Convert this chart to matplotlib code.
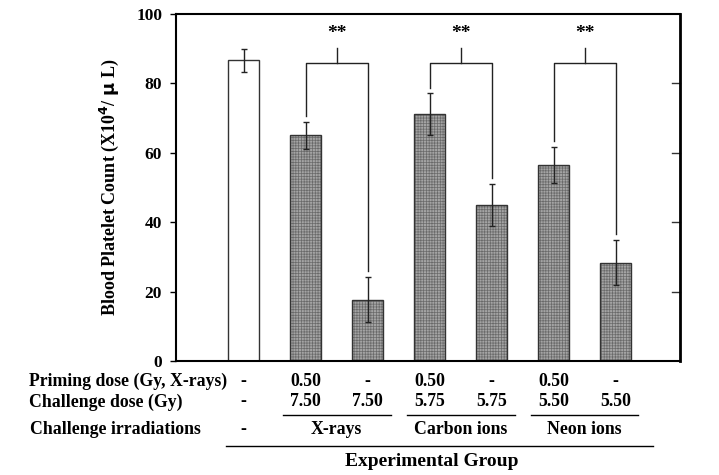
import matplotlib
matplotlib.use("Agg")
import matplotlib.pyplot as plt
from matplotlib import transforms

plt.rcParams['font.family'] = ['Liberation Serif', 'DejaVu Serif']
plt.rcParams['font.weight'] = 'bold'
plt.rcParams['hatch.linewidth'] = 0.5

means = [86.7, 65.0, 17.7, 71.1, 45.0, 56.5, 28.3]
errs = [3.3, 3.8, 6.5, 6.0, 6.0, 5.3, 6.5]
priming = ['-', '0.50', '-', '0.50', '-', '0.50', '-']
challenge = ['-', '7.50', '7.50', '5.75', '5.75', '5.50', '5.50']
groups = ['X-rays', 'Carbon ions', 'Neon ions']
group_pairs = [(1, 2), (3, 4), (5, 6)]
yticks = [0, 20, 40, 60, 80, 100]

fig = plt.figure(figsize=(7.19, 4.75), dpi=100)
ax = fig.add_axes([0.2448, 0.24, 0.701, 0.7305])
x = list(range(len(means)))

for i, (m, e) in enumerate(zip(means, errs)):
    if i == 0:
        ax.bar(i, m, width=0.5, facecolor='white', edgecolor='#333333', linewidth=1.0, zorder=2)
    else:
        ax.bar(i, m, width=0.5, facecolor='#a4a4a4', edgecolor='#6a6a6a', linewidth=0,
               hatch='++++++', zorder=2)
        ax.bar(i, m, width=0.5, fill=False, edgecolor='#333333', linewidth=1.0, zorder=2)
ax.errorbar(x, means, yerr=errs, fmt='none', ecolor='#222222', elinewidth=1.0,
            capsize=2.5, capthick=1.0, zorder=3)

# significance brackets
bracket_y = 85.8
for (a, b) in group_pairs:
    ya = means[a] + errs[a] + 1.7
    yb = means[b] + errs[b] + 1.7
    ax.plot([a, a, b, b], [ya, bracket_y, bracket_y, yb], color='#222222', lw=1.0, zorder=3)
    mid = (a + b) / 2
    ax.plot([mid, mid], [bracket_y, 90.2], color='#222222', lw=1.0, zorder=3)
    ax.text(mid, 94.3, '**', ha='center', va='center', fontsize=14, fontweight='bold')

ax.set_xlim(-1.09, 7.04)
ax.set_ylim(0, 100)
ax.set_yticks(yticks)
ax.set_yticklabels([str(t) for t in yticks], fontsize=12.5, fontweight='bold')
ax.set_xticks([])
ax.tick_params(axis='y', direction='out', length=4, width=1.0, pad=6, right=False)
for s in ax.spines.values():
    s.set_linewidth(1.5)
ax.spines['right'].set_linewidth(2.0)

# inward ticks on right spine
for t in [20, 40, 60, 80]:
    ax.plot([0.985, 1.0], [t / 100, t / 100], transform=ax.transAxes, color='#333333',
            lw=1.0, clip_on=False)

ax.set_ylabel('Blood Platelet Count (X10$^{\\mathbf{4}}$/ $\\mathbf{\\mu}$ L)', fontsize=13,
              fontweight='bold', labelpad=11)

# table below
trans = transforms.blended_transform_factory(ax.transData, fig.transFigure)
fs = 12.8
row_y = [1 - 381.7 / 475, 1 - 402 / 475, 1 - 430 / 475]
fig.text(29 / 719, row_y[0], 'Priming dose (Gy, X-rays)', fontsize=fs, fontweight='bold', va='center')
fig.text(29 / 719, row_y[1], 'Challenge dose (Gy)', fontsize=fs, fontweight='bold', va='center')
fig.text(30 / 719, row_y[2], 'Challenge irradiations', fontsize=fs, fontweight='bold', va='center')
for i in x:
    ax.text(i, row_y[0], priming[i], transform=trans, ha='center', va='center', fontsize=fs, fontweight='bold')
    ax.text(i, row_y[1], challenge[i], transform=trans, ha='center', va='center', fontsize=fs, fontweight='bold')
ax.text(0, row_y[2], '-', transform=trans, ha='center', va='center', fontsize=fs, fontweight='bold')

line_y = 1 - 415 / 475
for g, (a, b) in zip(groups, group_pairs):
    ax.plot([a - 0.37, b + 0.37], [line_y, line_y], transform=trans, color='black', lw=1.0, clip_on=False)
    ax.text((a + b) / 2, row_y[2], g, transform=trans, ha='center', va='center', fontsize=fs, fontweight='bold')

long_y = 1 - 446 / 475
ax.plot([-0.29, 6.61], [long_y, long_y], transform=trans, color='black', lw=1.0, clip_on=False)
ax.text(3.03, 1 - 462 / 475, 'Experimental Group', transform=trans, ha='center', va='center',
        fontsize=14, fontweight='bold')

fig.savefig('out.png', dpi=100)
